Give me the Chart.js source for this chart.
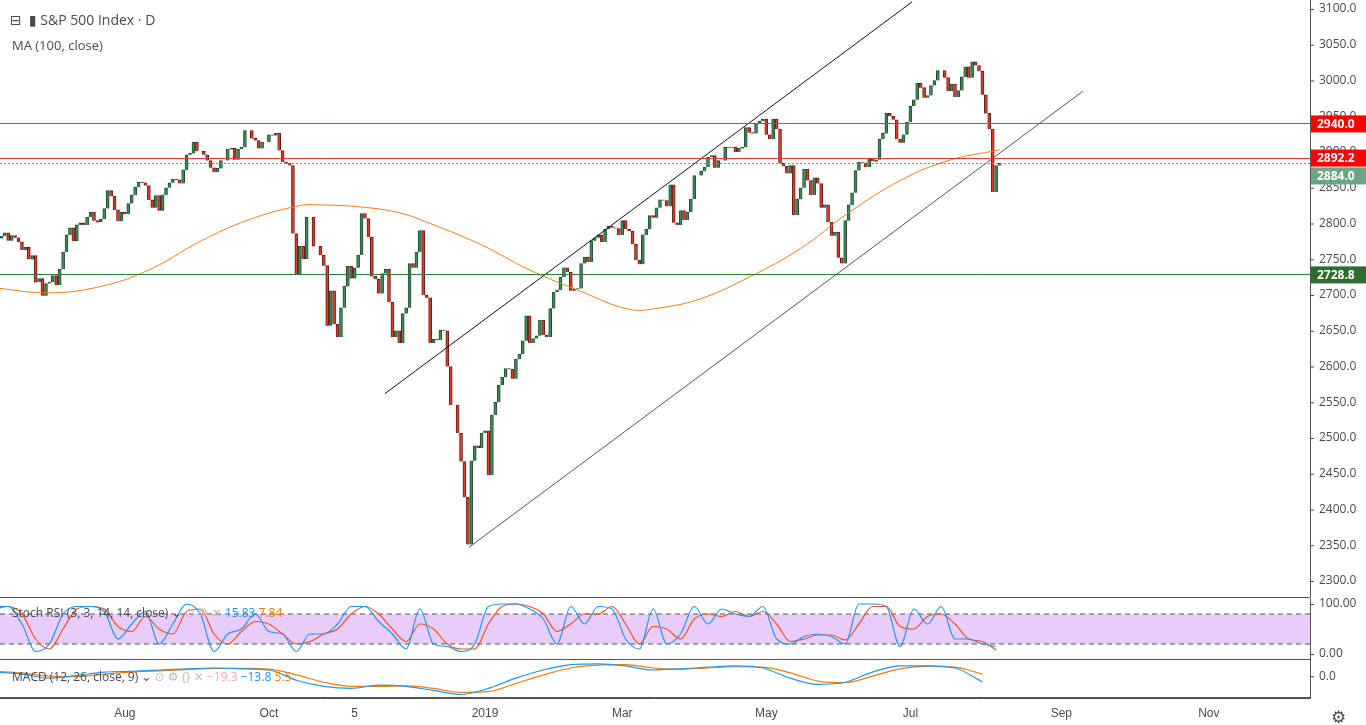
<!DOCTYPE html>
<html>
<head>
<meta charset="utf-8">
<script src="https://cdn.jsdelivr.net/npm/chart.js@4.4.0/dist/chart.umd.min.js"></script>
<style>
  body { margin:0; background:#fff; font-family:"Open Sans", "DejaVu Sans", sans-serif; overflow:hidden; }
  .pane { position:absolute; left:0; width:1366px; }
  .legend { position:absolute; font-size:13px; color:#4a4a4a; white-space:nowrap; }
  .sep { position:absolute; left:0; width:1310px; height:1px; background:#555; }
</style>
</head>
<body>
<div class="pane" style="top:0;height:597px"><canvas id="main"></canvas></div>
<div class="pane" style="top:598px;height:61px"><canvas id="stoch"></canvas></div>
<div class="pane" style="top:659px;height:66px"><canvas id="macd"></canvas></div>
<div class="sep" style="top:597px"></div>
<div class="sep" style="top:659px"></div>
<div class="sep" style="top:697px"></div>
<div class="legend" style="left:10px;top:10px;font-size:14px">⊟ &nbsp;▮ S&amp;P 500 Index · D</div>
<div class="legend" style="left:12px;top:36px">MA (100, close)</div>
<div class="legend" style="left:12px;top:604px;font-size:12px">Stoch RSI (3, 3, 14, 14, close) ⌄ <span style="color:#bbb">⊙ ⚙ ✕</span> <span style="color:#2196f3">15.83</span> <span style="color:#f57c00">7.84</span></div>
<div class="legend" style="left:12px;top:668px;font-size:12px">MACD (12, 26, close, 9) ⌄ <span style="color:#bbb">⊙ ⚙ {} ✕</span> <span style="color:#f4a6b8">−19.3</span> <span style="color:#2196f3">−13.8</span> <span style="color:#f57c00">5.5</span></div>
<div class="legend" style="left:1331px;top:705px;font-size:17px">⚙</div>
<script>
// daily closes, Jun 7 2018 .. Aug 7 2019
const closes2018 = [
  2770,2779,2782,2787,2776,2783,2780,2774,2763,2767,2750,2755,2718,2723,2699,2716,2718,
  2727,2714,2736,2760,2784,2794,2775,2798,2801,2798,2809,2816,2804,2802,2806,2821,2846,2838,2819,2803,2816,
  2813,2828,2840,2851,2858,2857,2853,2833,2822,2839,2818,2840,2850,2857,2862,2861,2856,2875,2896,2898,2914,2901,2901,
  2896,2888,2878,2872,2877,2888,2888,2904,2905,2889,2904,2907,2930,2930,2919,2916,2905,2914,2914,
  2924,2923,2926,2902,2886,2884,2881,2786,2728,2768,2750,2809,2809,2768,2768,2756,2741,2657,2706,2659,2641,2682,2712,
  2740,2723,2738,2756,2814,2807,2781,2726,2722,2702,2730,2736,2690,2641,2650,2633,2674,2682,2744,2738,2760,
  2790,2700,2696,2633,2638,2637,2651,2650,2600,2546,2546,2507,2467,2417,2351,2468,2489,2486,2507
];
const closes2019 = [
  2510,2448,2532,2550,2574,2585,2597,2596,2583,2610,2617,2636,2671,2633,2639,2643,2665,2644,2641,2681,2704,
  2707,2725,2738,2732,2706,2708,2709,2744,2753,2746,2776,2780,2784,2774,2792,2796,2794,2793,2784,
  2804,2792,2789,2771,2749,2743,2784,2792,2811,2808,2822,2833,2832,2824,2854,2801,2798,2818,2805,2816,2834,
  2867,2867,2873,2879,2893,2895,2878,2888,2888,2907,2906,2907,2900,2905,2907,2934,2927,2926,2940,2943,2946,
  2924,2918,2946,2932,2884,2880,2870,2881,2812,2834,2850,2876,2860,2840,2864,2856,2822,2826,2802,2783,2788,2752,
  2744,2804,2826,2843,2874,2886,2885,2879,2891,2887,2889,2918,2926,2954,2950,2945,2918,2913,2924,2942,
  2964,2973,2996,2990,2976,2979,2993,3000,3014,3014,3004,2985,2995,2977,2986,3005,3019,3004,3026,3021,3013,2980,
  2954,2932,2844,2881,2884
];
const closes = closes2018.concat(closes2019);
const firstOpen = 2762;

// MA(100) read at sparse bar indices
const maIdx = [0,16,31,45,60,74,89,95,107,118,127,142,156,171,185,194,206,220,235,249,264,278,293];
const maVal = [2710,2703,2712,2735,2775,2805,2825,2826,2823,2815,2800,2770,2735,2705,2680,2682,2695,2725,2765,2815,2860,2888,2903];

// Stoch RSI, every 4th bar
const stochK = [95,95,60,5,20,80,95,95,85,30,60,85,20,60,100,80,5,40,50,80,45,40,5,40,40,60,95,95,65,40,10,90,20,15,5,20,95,100,100,90,70,20,95,60,95,90,30,10,90,20,40,95,60,90,80,75,95,30,20,35,40,35,20,100,100,95,15,90,60,95,30,30,20,15];
const stochD = [90,95,80,30,10,50,90,95,90,55,45,75,50,40,85,90,40,20,45,65,60,40,20,25,40,50,80,95,80,50,25,60,50,20,10,10,60,95,100,95,80,45,60,80,80,95,60,20,55,50,30,70,80,75,85,75,85,60,25,30,38,38,28,60,95,95,55,50,75,80,60,30,25,8];

// MACD, every 8th bar
const macdLine = [10,5,-5,2,10,12,15,18,20,18,15,-10,-25,-30,-22,-25,-35,-45,-30,-5,15,28,30,25,15,18,22,25,20,-5,-20,-15,10,25,25,20,-14];
const macdSignal = [12,8,0,-1,5,10,13,16,19,19,17,3,-15,-25,-25,-24,-30,-40,-38,-18,3,20,27,28,20,17,20,23,22,8,-12,-16,0,18,24,22,5];

const priceTicks = [2300,2350,2400,2450,2500,2550,2600,2650,2700,2750,2800,2850,2900,2950,3000,3050,3100];
const timeTickIdx = [38,80,105,143,183,225,267,311,354];
const timeTickLbl = ['Aug','Oct','5','2019','Mar','May','Jul','Sep','Nov'];

// trendlines [index, price]
const upperChannel = [[113.8,2562],[267.5,3110]];
const lowerChannel = [[138.3,2347],[317.3,2985]];
const levels = [
  {v:2940.0, line:'#e53935', bg:'#ff0000', off:0},
  {v:2892.2, line:'#e53935', bg:'#ff0000', off:0},
  {v:2884.0, line:'#5c9c7a', bg:'#6ba583', dash:[2,2], off:12},
  {v:2728.8, line:'#2e7d32', bg:'#2e6b2e', off:0}
];

const XMIN = 1.6, XMAX = 383.5;
const axisColor = '#4a4a4a';
const fitRight = function(s){ s.width = 56; };

// y tick labels drawn by hand so the axis adds no padding
function rightLabels(values, fmt) {
  return {
    id:'rightLabels',
    afterDraw(chart) {
      const ctx = chart.ctx, y = chart.scales.y, a = chart.chartArea;
      ctx.save();
      ctx.fillStyle = axisColor; ctx.font = '12px "Open Sans"'; ctx.textBaseline = 'middle';
      values.forEach(v => {
        const py = y.getPixelForValue(v);
        ctx.fillRect(a.right, py, 4, 1);
        ctx.fillText(fmt(v), a.right + 9, py);
      });
      ctx.restore();
    }
  };
}

const up = [], down = [];
closes.forEach((c, i) => {
  const o = i === 0 ? firstOpen : closes[i-1];
  (c >= o ? up : down).push({x:i, y:[o, c]});
});

const levelPlugin = {
  id:'levels',
  afterDatasetsDraw(chart) {
    const ctx = chart.ctx, y = chart.scales.y, a = chart.chartArea;
    levels.forEach(l => {
      const py = Math.round(y.getPixelForValue(l.v));
      ctx.save();
      ctx.strokeStyle = l.line; ctx.lineWidth = 1;
      ctx.setLineDash(l.dash || []);
      ctx.beginPath(); ctx.moveTo(a.left, py + 0.5); ctx.lineTo(a.right, py + 0.5); ctx.stroke();
      ctx.restore();
    });
  },
  afterDraw(chart) {
    const ctx = chart.ctx, y = chart.scales.y, a = chart.chartArea;
    levels.forEach(l => {
      const py = y.getPixelForValue(l.v) + l.off;
      ctx.fillStyle = l.bg;
      ctx.fillRect(a.right + 1, py - 8, 56, 17);
      ctx.fillStyle = '#fff';
      ctx.font = 'bold 12px "Open Sans"';
      ctx.textBaseline = 'middle';
      ctx.fillText(l.v.toFixed(1), a.right + 7, py + 1);
    });
  }
};

const yHidden = (min, max) => ({
  position:'right', min, max, afterFit: fitRight,
  grid:{display:false, drawTicks:false}, border:{color:'#555'},
  ticks:{display:false}
});

new Chart(document.getElementById('main'), {
  type:'bar',
  data:{ datasets:[
    {data:up, backgroundColor:'#3d8b5a', borderColor:'#1e4d30', borderWidth:1, barThickness:3, grouped:false, order:2},
    {data:down, backgroundColor:'#d6402f', borderColor:'#6b1a12', borderWidth:1, barThickness:3, grouped:false, order:2},
    {type:'line', data:maIdx.map((x,i)=>({x, y:maVal[i]})), borderColor:'#f57c20', borderWidth:1, pointRadius:0, tension:0.4, order:1},
    {type:'line', data:upperChannel.map(p=>({x:p[0], y:p[1]})), borderColor:'#111', borderWidth:1, pointRadius:0, order:1},
    {type:'line', data:lowerChannel.map(p=>({x:p[0], y:p[1]})), borderColor:'#555', borderWidth:1, pointRadius:0, order:1}
  ]},
  options:{
    responsive:true, maintainAspectRatio:false, animation:false,
    layout:{padding:0},
    plugins:{legend:{display:false}, tooltip:{enabled:false}},
    scales:{
      x:{type:'linear', min:XMIN, max:XMAX, offset:false, display:false},
      y:yHidden(2277.6, 3112.6)
    }
  },
  plugins:[rightLabels(priceTicks, v=>v.toFixed(1)), levelPlugin]
});

const bandPlugin = {
  id:'band',
  beforeDatasetsDraw(chart) {
    const ctx = chart.ctx, y = chart.scales.y, a = chart.chartArea;
    const y80 = y.getPixelForValue(80), y20 = y.getPixelForValue(20);
    ctx.save();
    ctx.fillStyle = '#e8ccfc';
    ctx.fillRect(a.left, y80, a.right - a.left, y20 - y80);
    ctx.strokeStyle = '#555'; ctx.setLineDash([5,4]);
    [y80, y20].forEach(p => { ctx.beginPath(); ctx.moveTo(a.left, p); ctx.lineTo(a.right, p); ctx.stroke(); });
    ctx.restore();
  }
};

const osc = (vals, step, color) => ({
  data:vals.map((v,i)=>({x:i*step, y:v})), borderColor:color, borderWidth:1.2,
  pointRadius:0, cubicInterpolationMode:'monotone'
});

new Chart(document.getElementById('stoch'), {
  type:'line',
  data:{ datasets:[osc(stochK, 4, '#2196f3'), osc(stochD, 4, '#f4511e')] },
  options:{
    responsive:true, maintainAspectRatio:false, animation:false,
    layout:{padding:0},
    plugins:{legend:{display:false}, tooltip:{enabled:false}},
    scales:{
      x:{type:'linear', min:XMIN, max:XMAX, offset:false, display:false},
      y:yHidden(-10, 112)
    }
  },
  plugins:[bandPlugin, rightLabels([0,100], v=>v.toFixed(2))]
});

new Chart(document.getElementById('macd'), {
  type:'line',
  data:{ datasets:[osc(macdLine, 8, '#2196f3'), osc(macdSignal, 8, '#f57c00')] },
  options:{
    responsive:true, maintainAspectRatio:false, animation:false,
    layout:{padding:0},
    plugins:{legend:{display:false}, tooltip:{enabled:false}},
    scales:{
      x:{type:'linear', min:XMIN, max:XMAX, offset:false,
         afterBuildTicks: s => { s.ticks = timeTickIdx.map(v=>({value:v})); },
         grid:{display:false, drawTicks:true, tickLength:4, tickColor:'#555'},
         border:{color:'#555'},
         ticks:{color:axisColor, font:{size:12}, padding:4, maxRotation:0, autoSkip:false,
                callback:(v)=>{ const k = timeTickIdx.indexOf(v); return k < 0 ? '' : timeTickLbl[k]; }}},
      y:yHidden(-55, 42)
    }
  },
  plugins:[rightLabels([0], v=>v.toFixed(1))]
});
</script>
</body>
</html>
